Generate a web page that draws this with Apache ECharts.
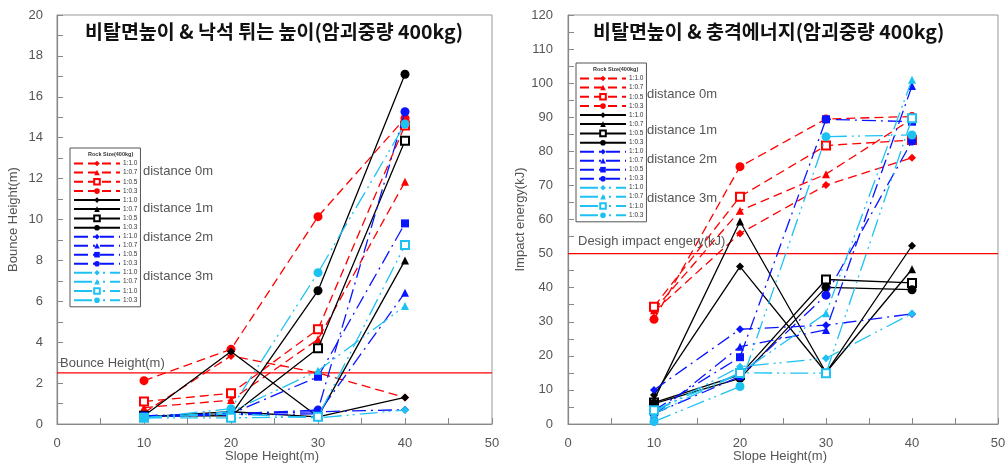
<!DOCTYPE html>
<html>
<head>
<meta charset="utf-8">
<script src="https://cdn.jsdelivr.net/npm/echarts@6/dist/echarts.min.js"></script>
<style>
html,body{margin:0;padding:0;background:#fff;overflow:hidden;}
#c{width:1005px;height:464px;}
</style>
</head>
<body>
<div id="c"></div>
<script>
// ---------- data ----------
const slopeHeights = [10, 20, 30, 40];
const xTicks = [0, 10, 20, 30, 40, 50];
const ratioLabels = ['1:1.0', '1:0.7', '1:0.5', '1:0.3'];
const ratioLabels3m = ['1:1.0', '1:0.7', '1:1.0', '1:0.3'];
const distanceLabels = ['distance 0m', 'distance 1m', 'distance 2m', 'distance 3m'];
const xAxisTitle = 'Slope Height(m)';

// Bounce height (m): each row = [1:1.0, 1:0.7, 1:0.5, 1:0.3]
const bounce0m = [[0.55, 3.33, 2.5, 1.3], [0.8, 1.17, 4.14, 11.85], [1.1, 1.5, 4.63, 14.6], [2.12, 3.65, 10.14, 14.95]];
const bounce1m = [[0.4, 3.55, 0.35, 1.3], [0.35, 0.6, 0.35, 8.0], [0.4, 0.4, 3.7, 13.85], [0.4, 0.45, 6.52, 17.1]];
const bounce2m = [[0.4, 0.5, 0.6, 0.7], [0.35, 0.45, 0.5, 6.42], [0.4, 0.5, 2.31, 9.81], [0.35, 0.5, 0.68, 15.27]];
const bounce3m = [[0.3, 0.5, 0.3, 0.68], [0.3, 0.6, 2.6, 5.77], [0.3, 0.3, 0.35, 8.75], [0.3, 0.75, 7.4, 14.67]];
const bounceRef = 2.5;
const bounceRefLabel = 'Bounce Height(m)';

// Impact energy (kJ)
const energy0m = [[33.0, 55.9, 70.1, 78.1], [33.4, 62.6, 73.3, 89.5], [34.4, 66.7, 81.7, 83.3], [30.7, 75.5, 89.5, 90.2]];
const energy1m = [[8.5, 46.2, 15.1, 52.3], [7.0, 59.4, 15.1, 45.4], [6.3, 14.4, 42.4, 41.4], [6.0, 13.4, 40.1, 39.4]];
const energy2m = [[10.0, 27.8, 29.0, 32.3], [2.6, 22.7, 27.6, 99.2], [4.0, 19.6, 89.4, 88.7], [3.0, 14.0, 37.8, 83.0]];
const energy3m = [[3.5, 16.8, 19.3, 32.4], [3.0, 14.9, 32.5, 101.0], [4.0, 15.0, 14.9, 89.7], [0.7, 11.0, 84.3, 84.8]];
const energyRef = 50;
const energyRefLabel = 'Desigh impact engery(kJ)';

// ---------- styles ----------
const groupColors = ['#ff0000', '#000000', '#0a14ff', '#1ec2f2'];
const groupDash = [[9, 5], 'solid', [14, 5, 2, 5], [18, 5, 2, 4, 2, 5]];
const symbols = ['diamond', 'triangle', 'rect', 'circle'];
const symbolSizes = [8, 8, 8, 9];
const openSquare = [true, true, false, true];

function buildSeries(groups, prefix, axisIndex) {
  const series = [];
  const names = [];
  groups.forEach((grp, g) => {
    grp.forEach((vals, k) => {
      const lbl = (g === 3 ? ratioLabels3m : ratioLabels)[k];
      const name = prefix + g + '_' + k + ' ' + lbl;
      names.push(name);
      const isOpen = symbols[k] === 'rect' && openSquare[g];
      series.push({
        name: name,
        type: 'line',
        xAxisIndex: axisIndex,
        yAxisIndex: axisIndex,
        data: slopeHeights.map((x, i) => [x, vals[i]]),
        symbol: symbols[k],
        symbolSize: symbolSizes[k],
        showAllSymbol: true,
        color: groupColors[g],
        lineStyle: { color: groupColors[g], width: 1.3, type: groupDash[g] },
        itemStyle: isOpen
          ? { color: '#ffffff', borderColor: groupColors[g], borderWidth: 2 }
          : { color: groupColors[g], borderColor: groupColors[g], borderWidth: 0 },
        z: 3 + g,
        animation: false
      });
    });
  });
  return { series, names };
}

const left = buildSeries([bounce0m, bounce1m, bounce2m, bounce3m], 'B', 0);
const right = buildSeries([energy0m, energy1m, energy2m, energy3m], 'E', 1);

const axisText = { color: '#555', fontSize: 13, fontFamily: 'Liberation Sans, Arial, sans-serif' };

function xAxisCfg(idx) {
  return {
    type: 'value', gridIndex: idx, min: xTicks[0], max: xTicks[xTicks.length - 1], interval: 10,
    axisLine: { lineStyle: { color: '#888', width: 1.2 } },
    axisTick: { inside: true, length: 6, lineStyle: { color: '#888' } },
    minorTick: { show: true, splitNumber: 2, length: 6, lineStyle: { color: '#888' } },
    axisLabel: Object.assign({ margin: 13 }, axisText),
    splitLine: { show: false }
  };
}
function yAxisCfg(idx, max, interval, name, gap, margin) {
  return {
    type: 'value', gridIndex: idx, min: 0, max: max, interval: interval,
    name: name, nameLocation: 'middle', nameGap: gap, nameRotate: 90,
    nameTextStyle: axisText,
    axisLine: { show: true, lineStyle: { color: '#888', width: 1.2 } },
    axisTick: { show: true, inside: true, length: 6, lineStyle: { color: '#888' } },
    minorTick: { show: true, splitNumber: 2, length: 6, lineStyle: { color: '#888' } },
    axisLabel: Object.assign({ margin: margin }, axisText),
    splitLine: { show: false }
  };
}

// reference (design) line drawn as a plain line series spanning the x range
function refSeries(idx, value) {
  const x0 = xTicks[0], x1 = xTicks[xTicks.length - 1];
  return {
    name: 'ref' + idx, type: 'line', xAxisIndex: idx, yAxisIndex: idx,
    data: [[x0, value], [x1, value]],
    symbol: 'none', silent: true, animation: false, z: 2,
    color: '#ff0000',
    lineStyle: { color: '#ff0000', width: 1.2, type: 'solid' }
  };
}

function legendCfg(names, leftPx, topPx) {
  return {
    data: names, orient: 'vertical', left: leftPx, top: topPx,
    itemWidth: 46, itemHeight: 7, itemGap: 2,
    padding: [12, 3, 3, 3],
    borderColor: '#555', borderWidth: 1, backgroundColor: '#fff',
    textStyle: { fontSize: 6.5, color: '#333', fontFamily: 'Liberation Sans, Arial, sans-serif', padding: [0, 0, 0, -2] },
    formatter: n => n.split(' ')[1],
    selectedMode: false
  };
}

function titleText(x, y, text) {
  return { type: 'text', left: x, top: y, z: 100,
    style: { text: text, fill: '#111', font: 'bold 19.5px "Noto Sans CJK KR", sans-serif' } };
}
function noteText(x, y, text) {
  return { type: 'text', left: x, top: y, z: 100,
    style: { text: text, fill: '#555', font: '13px "Liberation Sans", Arial, sans-serif' } };
}
function centeredText(cx, cy, text) {
  return { type: 'text', x: cx, y: cy, z: 100,
    style: { text: text, fill: '#555', font: '13px "Liberation Sans", Arial, sans-serif',
             textAlign: 'center', textVerticalAlign: 'middle', align: 'center', verticalAlign: 'middle' } };
}
function legendTitle(x, y) {
  return { type: 'text', left: x, top: y, z: 100,
    style: { text: 'Rock Size(400kg)', fill: '#333', font: 'bold 5.5px "Liberation Sans", Arial, sans-serif' } };
}

const leftNoteY = [165, 202, 231, 270];
const rightNoteY = [88, 124, 153, 192];

const graphics = [
  titleText(85, 22, '비탈면높이 & 낙석 튀는 높이(암괴중량 400kg)'),
  titleText(593, 22, '비탈면높이 & 충격에너지(암괴중량 400kg)'),
  legendTitle(88, 151),
  legendTitle(593, 66),
  noteText(60, 357, bounceRefLabel),
  noteText(578, 235, energyRefLabel),
  centeredText(272, 456, xAxisTitle),
  centeredText(780, 456, xAxisTitle)
];
distanceLabels.forEach((t, i) => {
  graphics.push(noteText(143, leftNoteY[i], t));
  graphics.push(noteText(647, rightNoteY[i], t));
});

const chart = echarts.init(document.getElementById('c'), null, { renderer: 'canvas' });
chart.setOption({
  animation: false,
  backgroundColor: '#fff',
  grid: [
    { left: 57, top: 15, width: 435, height: 409, show: true, borderColor: '#999', borderWidth: 1,
      containLabel: false, outerBoundsMode: 'none' },
    { left: 568, top: 15, width: 430, height: 409, show: true, borderColor: '#999', borderWidth: 1,
      containLabel: false, outerBoundsMode: 'none' }
  ],
  xAxis: [xAxisCfg(0), xAxisCfg(1)],
  yAxis: [
    yAxisCfg(0, 20, 2, 'Bounce Height(m)', 37, 14),
    yAxisCfg(1, 120, 10, 'Impact energy(kJ)', 41, 15)
  ],
  legend: [legendCfg(left.names, 70, 148), legendCfg(right.names, 576, 63)],
  series: [refSeries(0, bounceRef), refSeries(1, energyRef)].concat(left.series).concat(right.series),
  graphic: graphics
});
</script>
</body>
</html>
